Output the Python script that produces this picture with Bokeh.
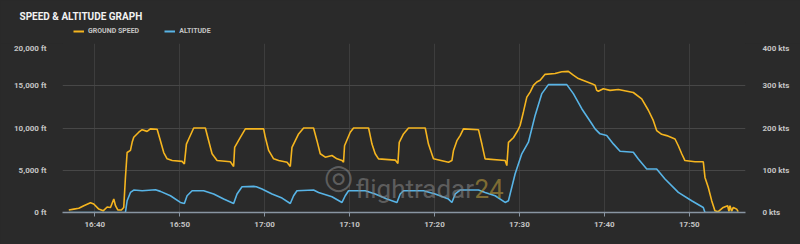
import pandas as pd
from bokeh.plotting import figure
from bokeh.layouts import column
from bokeh.models import (Range1d, LinearAxis, SingleIntervalTicker, DatetimeTickFormatter,
                          CustomJSTickFormatter, PrintfTickFormatter, Label, Legend, LegendItem,
                          ColumnDataSource)
from bokeh.embed import file_html
from bokeh.resources import INLINE

BASE = pd.Timestamp("2024-01-01 16:00")

# ground speed (minutes after 16:00, knots)
speed_min = [36.94, 37.53, 38.12, 38.71, 39.49, 39.88, 40.47, 40.99, 41.46, 41.85, 42.24, 42.44,
             42.71, 43.14, 43.41, 43.61, 43.81, 44.2, 44.4, 44.59, 45.18, 45.58, 46.16, 46.55,
             47.34, 47.73, 48.12, 48.52, 49.11, 50.28, 50.55, 50.79, 51.06, 51.65, 53.02, 53.41,
             53.81, 54.4, 55.96, 56.35, 56.47, 57.14, 57.73, 59.49, 59.88, 60.08, 60.47, 61.06,
             61.65, 62.64, 63.02, 63.22, 64.0, 64.59, 65.76, 66.16, 66.55, 67.14, 67.93, 68.52,
             69.11, 69.29, 69.41, 70.08, 70.47, 72.24, 72.64, 73.02, 73.41, 75.38, 75.69, 75.85,
             76.35, 76.94, 78.91, 79.29, 79.88, 81.65, 82.05, 82.24, 82.64, 83.02, 83.41, 85.18,
             85.58, 85.96, 88.32, 88.52, 88.71, 89.29, 89.81, 90.08, 90.47, 90.87, 91.26, 91.65,
             92.05, 92.44, 93.02, 94.2, 94.99, 95.76, 96.35, 96.94, 98.52, 98.91, 99.11, 99.29,
             99.88, 100.67, 101.65, 103.41, 104.4, 105.18, 105.76, 106.16, 106.75, 107.34, 108.32,
             108.71, 109.11, 109.49, 110.67, 111.65, 111.85, 112.24, 112.64, 113.02, 113.41, 114.0,
             114.52, 114.67, 114.79, 114.99, 115.18, 115.58, 115.76]
speed_kts = [6, 8, 10, 16, 23, 20, 8, 4, 13, 12, 32, 16,
             6, 6, 12, 83, 142, 147, 166, 178, 190, 196, 192, 198,
             197, 170, 142, 127, 123, 121, 115, 162, 174, 200, 200, 170,
             139, 123, 120, 109, 154, 178, 198, 198, 198, 178, 147, 127,
             123, 119, 109, 154, 186, 200, 200, 170, 139, 131, 135, 127,
             123, 119, 158, 190, 200, 200, 162, 139, 127, 124, 116, 166,
             186, 200, 200, 162, 127, 119, 123, 147, 170, 182, 198, 196,
             162, 127, 123, 111, 166, 177, 194, 206, 238, 273, 285, 301,
             309, 313, 327, 329, 333, 334, 325, 317, 305, 301, 289, 287,
             293, 289, 291, 284, 269, 242, 218, 194, 185, 182, 174,
             158, 139, 123, 120, 120, 83, 59, 28, 4, 2, 12,
             16, 3, 16, 3, 12, 8, 2]

# altitude (minutes after 16:00, feet)
alt_min = [36.94, 43.61, 43.81, 44.2, 44.59, 45.58, 47.14, 47.73, 48.91, 50.08, 50.55, 50.87,
           51.46, 52.82, 54.0, 55.18, 56.35, 56.75, 57.34, 58.71, 59.02, 59.69, 60.87, 62.05,
           63.02, 63.41, 63.81, 65.76, 66.35, 67.93, 69.11, 69.49, 69.88, 71.85, 73.02, 74.4,
           75.58, 75.96, 76.35, 78.71, 80.08, 81.65, 82.05, 82.44, 83.02, 85.18, 85.96, 87.14,
           88.32, 88.71, 89.49, 90.28, 91.06, 91.85, 92.64, 93.41, 95.58, 96.35, 97.34, 98.52,
           98.91, 99.49, 100.28, 101.06, 101.85, 103.41, 104.0, 104.99, 106.16, 107.14, 108.71,
           110.28, 111.65, 111.85, 115.76]
alt_ft = [0, 0, 1390, 2376, 2660, 2580, 2700, 2500, 1980, 1190, 1070, 1980,
          2580, 2580, 2190, 1590, 1070, 2190, 3050, 3090, 3050, 2780, 2190, 1710,
          1070, 1980, 2580, 2660, 2376, 1865, 1190, 1980, 2580, 2580, 2190, 1590,
          1190, 2190, 2580, 2580, 2190, 1590, 1190, 2190, 2660, 2660, 2376, 1980,
          1190, 1390, 4560, 6940, 8320, 11490, 14070, 15135, 15135, 14070, 12280, 10500,
          9900, 9310, 9110, 8120, 7250, 7130, 6340, 5150, 5150, 3970, 2376,
          1390, 590, 0, 0]

series_names = ["GROUND SPEED", "ALTITUDE"]
title_text = "SPEED & ALTITUDE GRAPH"

x_start_min, x_end_min = 36.2, 116.62
ft_max, kts_max = 20000, 400

BG = "#2a2a2a"
YELLOW = "#f5b51f"
BLUE = "#58b4e6"
TXT = "#c4c4c4"
FONT = "Roboto"


def to_dt(mins):
    return BASE + pd.to_timedelta(pd.Series(mins), unit="m")


W = 800
HEAD_H = 43
MAIN_H = 244 - HEAD_H
ML, MR, MB = 62, 55, 32
HEAD_TOP = 22
BG_STYLE = {"background-color": BG}

# ---------- header: title + legend ----------
head = figure(width=W, height=HEAD_H, output_backend="svg", toolbar_location=None,
              x_range=Range1d(0, 1), y_range=Range1d(0, 1),
              x_axis_location=None, y_axis_location=None,
              min_border_left=ML, min_border_right=MR, min_border_top=HEAD_TOP, min_border_bottom=0,
              background_fill_color=BG, border_fill_color=BG, outline_line_color=None,
              styles=BG_STYLE)
head.xgrid.grid_line_color = None
head.ygrid.grid_line_color = None
hidden = ColumnDataSource(data=dict(x=[5, 6], y=[5, 6]))  # outside the header's range
h_speed = head.line("x", "y", source=hidden, line_color=YELLOW, line_width=2)
h_alt = head.line("x", "y", source=hidden, line_color=BLUE, line_width=2)

head.title.text = title_text
head.title.align = "left"
head.title.offset = 19 - ML
head.title.text_color = "#f2f2f2"
head.title.text_font = FONT
head.title.text_font_size = "10px"
head.title.text_font_style = "bold"
head.title.standoff = 2

legend = Legend(items=[LegendItem(label=series_names[0], renderers=[h_speed]),
                       LegendItem(label=series_names[1], renderers=[h_alt])],
                orientation="horizontal", location=(73 - ML, HEAD_H - 35),
                glyph_width=11, glyph_height=8, label_height=8, label_standoff=4, spacing=25,
                padding=0, margin=0, border_line_color=None, background_fill_alpha=0,
                label_text_font=FONT, label_text_font_size="7px", label_text_font_style="bold",
                label_text_color=TXT, label_text_baseline="middle")
head.add_layout(legend)

# ---------- main chart ----------
p = figure(width=W, height=MAIN_H, output_backend="svg", toolbar_location=None,
           x_axis_type="datetime",
           x_range=Range1d(BASE + pd.Timedelta(minutes=x_start_min), BASE + pd.Timedelta(minutes=x_end_min)),
           y_range=Range1d(0, ft_max),
           min_border_left=ML, min_border_right=MR, min_border_top=0, min_border_bottom=MB,
           background_fill_color=BG, border_fill_color=BG, outline_line_color=None,
           styles=BG_STYLE)
p.extra_y_ranges = {"kts": Range1d(0, kts_max)}

r_speed = p.line(to_dt(speed_min), speed_kts, y_range_name="kts", line_color=YELLOW, line_width=1.6)
r_alt = p.line(to_dt(alt_min), alt_ft, line_color=BLUE, line_width=1.6)

xa = p.xaxis[0]
xa.ticker = SingleIntervalTicker(interval=600000, num_minor_ticks=0)
xa.formatter = DatetimeTickFormatter(minutes="%H:%M", hourmin="%H:%M", hours="%H:%M")
xa.axis_line_color = "#8995a2"
xa.axis_line_width = 1.5
xa.major_tick_line_color = "#8995a2"
xa.major_tick_in = 0
xa.major_tick_out = 4
xa.minor_tick_line_color = None
xa.major_label_standoff = 3

ya = p.yaxis[0]
ya.ticker = SingleIntervalTicker(interval=5000, num_minor_ticks=0)
ya.formatter = CustomJSTickFormatter(code="return tick.toLocaleString('en-US') + ' ft';")
ya.axis_line_color = None
ya.major_tick_line_color = None
ya.minor_tick_line_color = None
ya.major_label_standoff = 10

yr = LinearAxis(y_range_name="kts", ticker=SingleIntervalTicker(interval=100, num_minor_ticks=0),
                formatter=PrintfTickFormatter(format="%d kts"))
yr.axis_line_color = None
yr.major_tick_line_color = None
yr.minor_tick_line_color = None
yr.major_label_standoff = 11
p.add_layout(yr, "right")

for ax in (xa, ya, yr):
    ax.major_label_text_color = TXT
    ax.major_label_text_font = FONT
    ax.major_label_text_font_size = "8px"
    ax.major_label_text_font_style = "bold"

p.xgrid.grid_line_color = "#3d3d3d"
p.ygrid.grid_line_color = "#474747"
p.xgrid.ticker = xa.ticker
p.ygrid.ticker = ya.ticker

# watermark
FB = 212 - HEAD_H  # frame bottom inside main figure
p.add_layout(Label(x=338 - ML, y=FB - (175 - HEAD_H), x_units="screen", y_units="screen", text="◎",
                   text_color="#8a8a8a", text_alpha=0.55, text_font="DejaVu Sans",
                   text_font_size="34px", text_align="center", text_baseline="middle"))
p.add_layout(Label(x=355 - ML, y=FB - (188 - HEAD_H), x_units="screen", y_units="screen",
                   text="flightradar", text_color="#8a8a8a", text_alpha=0.55, text_font=FONT,
                   text_font_size="26px", text_baseline="alphabetic"))
p.add_layout(Label(x=474 - ML, y=FB - (188 - HEAD_H), x_units="screen", y_units="screen",
                   text="24", text_color="#b89a3a", text_alpha=0.6, text_font=FONT,
                   text_font_size="26px", text_baseline="alphabetic"))

layout = column(head, p, spacing=0, styles=BG_STYLE)
open("out.html", "w").write(file_html(layout, INLINE))
